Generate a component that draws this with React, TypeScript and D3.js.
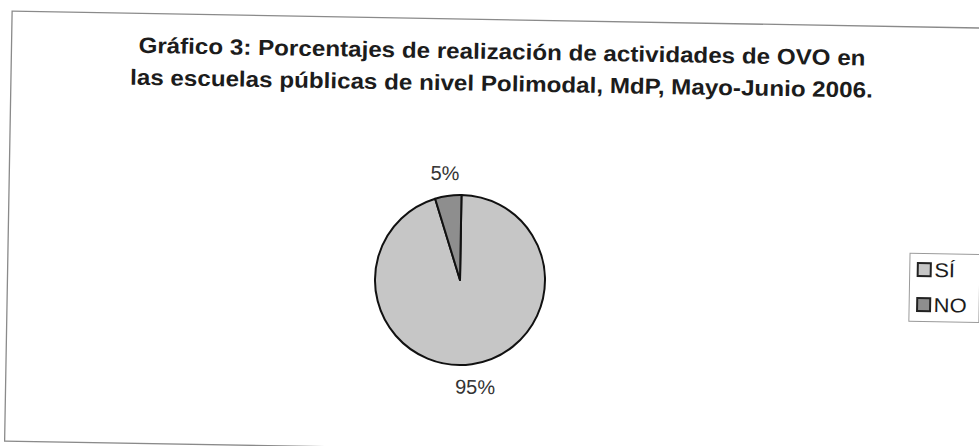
import * as d3 from "d3";
import { useEffect, useRef } from "react";

const categories = ["SÍ", "NO"];
const values = [95, 5];
const labels = ["95%", "5%"];
const colors = ["#c6c6c6", "#8e8e8e"];
const titleLines = [
  "Gráfico 3: Porcentajes de realización de actividades de OVO en",
  "las escuelas públicas de nivel Polimodal, MdP, Mayo-Junio 2006.",
];

function PieChart() {
  const ref = useRef<SVGSVGElement>(null);
  const width = 979;
  const height = 446;
  const cx = 461;
  const cy = 280.5;
  const radius = 85;
  const font = "'Liberation Sans', Arial, sans-serif";

  useEffect(() => {
    const root = d3.select(ref.current);
    root.selectAll("*").remove();

    // the scan is tilted about a degree clockwise
    const svg = root
      .append("g")
      .attr("transform", `rotate(1, 490, 223)`);

    svg
      .append("rect")
      .attr("x", 8.5)
      .attr("y", 19.5)
      .attr("width", 1100)
      .attr("height", 430)
      .attr("fill", "white")
      .attr("stroke", "#8a8a8a")
      .attr("stroke-width", 1.3);

    // title, slightly wider than the plain font
    svg
      .append("g")
      .selectAll("text")
      .data(titleLines)
      .join("text")
      .attr("transform", (_, i) => `translate(499, ${59 + i * 32}) scale(1.1, 1)`)
      .attr("text-anchor", "middle")
      .attr("font-family", font)
      .attr("font-weight", "bold")
      .attr("font-size", 22)
      .attr("fill", "#1c1c1c")
      .text((d) => d);

    const pie = d3
      .pie<number>()
      .sort(null)
      .value((d) => d);
    const arcs = pie(values);
    const arc = d3.arc<d3.PieArcDatum<number>>().innerRadius(0).outerRadius(radius);
    const labelArc = d3
      .arc<d3.PieArcDatum<number>>()
      .innerRadius(108)
      .outerRadius(108);

    const g = svg.append("g").attr("transform", `translate(${cx},${cy})`);

    g.selectAll("path")
      .data(arcs)
      .join("path")
      .attr("d", arc)
      .attr("fill", (_, i) => colors[i])
      .attr("stroke", "#111")
      .attr("stroke-width", 2)
      .attr("stroke-linejoin", "round");

    g.selectAll("text")
      .data(arcs)
      .join("text")
      .attr("transform", (d) => {
        const [x, y] = labelArc.centroid(d);
        return `translate(${x},${y})`;
      })
      .attr("text-anchor", "middle")
      .attr("dy", "0.35em")
      .attr("font-family", font)
      .attr("font-size", 20)
      .attr("fill", "#333")
      .text((_, i) => labels[i]);

    const legend = svg.append("g").attr("transform", `translate(910.5, 246)`);
    legend
      .append("rect")
      .attr("width", 70)
      .attr("height", 68)
      .attr("fill", "white")
      .attr("stroke", "#9a9a9a")
      .attr("stroke-width", 1);

    const item = legend
      .selectAll("g")
      .data(categories)
      .join("g")
      .attr("transform", (_, i) => `translate(8, ${16 + i * 35})`);
    item
      .append("rect")
      .attr("x", 0)
      .attr("y", -6.5)
      .attr("width", 13)
      .attr("height", 13)
      .attr("fill", (_, i) => colors[i])
      .attr("stroke", "#222")
      .attr("stroke-width", 2);
    item
      .append("text")
      .attr("transform", "translate(16.5, 0) scale(1.1, 1)")
      .attr("dy", "0.36em")
      .attr("font-family", font)
      .attr("font-size", 20)
      .attr("fill", "#1c1c1c")
      .text((d) => d);
  }, []);

  return (
    <svg
      ref={ref}
      width={width}
      height={height}
      style={{ position: "absolute", left: 0, top: 0, background: "white" }}
    />
  );
}

export default function App() {
  return <PieChart />;
}
